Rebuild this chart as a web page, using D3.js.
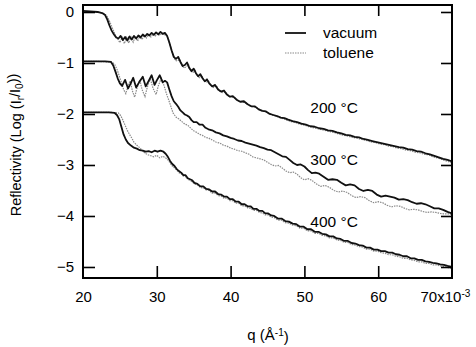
<!DOCTYPE html>
<html><head><meta charset="utf-8">
<script src="https://cdn.jsdelivr.net/npm/d3@7"></script>
<style>
body{margin:0;background:#fff;}
svg{display:block;font-family:"Liberation Sans",Arial,sans-serif;}
</style></head>
<body><svg id="c" width="476" height="347"></svg>
<script>
// q in units of 10^-3 Å^-1, reflectivity as log10
const xTicks = [20,30,40,50,60,70];
const yTicks = [0,-1,-2,-3,-4,-5];
const tempLabels = ["200 °C","300 °C","400 °C"];
const tempLabelPos = [[50.8,-1.98],[50.8,-3.0],[50.8,-4.22]];
const legendNames = ["vacuum","toluene"];

const vac200 = [[20,0.02],[21,0.01],[22,0.0],[22.6,-0.02],[23.0,-0.06],[23.3,-0.15],[23.6,-0.27],[23.9,-0.37],[24.2,-0.44],[24.5,-0.5],[24.8,-0.52],[25.1,-0.47],[25.4,-0.55],[25.7,-0.49],[26.0,-0.56],[26.3,-0.48],[26.6,-0.54],[26.9,-0.47],[27.2,-0.52],[27.5,-0.46],[27.8,-0.5],[28.1,-0.44],[28.4,-0.48],[28.7,-0.43],[29.0,-0.46],[29.3,-0.41],[29.6,-0.45],[29.9,-0.4],[30.2,-0.44],[30.5,-0.39],[30.8,-0.43],[31.1,-0.41],[31.4,-0.47],[31.7,-0.6],[32.0,-0.75],[32.3,-0.88],[32.6,-0.92],[32.9,-0.88],[33.2,-0.98],[33.5,-1.06],[33.8,-1.04],[34.1,-0.99],[34.4,-1.1],[34.7,-1.16],[35.0,-1.11],[35.3,-1.2],[35.6,-1.26],[35.9,-1.22],[36.2,-1.3],[36.5,-1.36],[36.8,-1.32],[37.1,-1.4],[37.5,-1.46],[37.9,-1.43],[38.3,-1.52],[38.7,-1.56],[39.1,-1.54],[39.5,-1.62],[39.9,-1.66],[40.3,-1.65],[40.8,-1.72],[41.3,-1.76],[41.8,-1.75],[42.3,-1.81],[42.8,-1.85],[43.3,-1.85],[43.8,-1.91],[44.3,-1.94],[44.8,-1.95],[45.3,-2.0],[45.8,-2.02],[46.3,-2.04],[46.8,-2.07],[47.3,-2.08],[47.8,-2.11],[48.4,-2.14],[49.0,-2.16],[49.6,-2.19],[50.2,-2.21],[50.8,-2.24],[51.4,-2.25],[52.0,-2.28],[52.6,-2.29],[53.2,-2.32],[53.8,-2.33],[54.4,-2.36],[55.0,-2.38],[55.6,-2.41],[56.2,-2.42],[56.8,-2.45],[57.4,-2.46],[58.0,-2.49],[58.6,-2.51],[59.2,-2.53],[59.8,-2.55],[60.4,-2.57],[61.0,-2.59],[61.6,-2.61],[62.2,-2.63],[62.8,-2.65],[63.4,-2.66],[64.0,-2.69],[64.6,-2.7],[65.2,-2.73],[65.8,-2.74],[66.4,-2.77],[67.0,-2.79],[67.6,-2.82],[68.2,-2.85],[68.8,-2.88],[69.4,-2.9],[70.0,-2.93]];

const tol200 = [[20,0.01],[21,0.0],[22,-0.01],[22.8,-0.03],[23.2,-0.07],[23.5,-0.15],[23.8,-0.25],[24.1,-0.36],[24.4,-0.45],[24.7,-0.53],[25.0,-0.6],[25.3,-0.5],[25.6,-0.62],[25.9,-0.5],[26.2,-0.61],[26.5,-0.49],[26.8,-0.59],[27.1,-0.48],[27.4,-0.57],[27.7,-0.47],[28.0,-0.54],[28.3,-0.45],[28.6,-0.51],[28.9,-0.44],[29.2,-0.49],[29.5,-0.43],[29.8,-0.47],[30.1,-0.42],[30.4,-0.46],[30.7,-0.42],[31.0,-0.45],[31.3,-0.44],[31.6,-0.55],[31.9,-0.7],[32.2,-0.84],[32.5,-0.95],[32.8,-0.96],[33.1,-0.93],[33.4,-1.04],[33.7,-1.1],[34.0,-1.07],[34.3,-1.03],[34.6,-1.15],[34.9,-1.19],[35.2,-1.15],[35.5,-1.25],[35.8,-1.29],[36.1,-1.25],[36.4,-1.34],[36.7,-1.38],[37.0,-1.35],[37.3,-1.43],[37.7,-1.48],[38.1,-1.45],[38.5,-1.55],[38.9,-1.58],[39.3,-1.57],[39.7,-1.64],[40.1,-1.67],[40.6,-1.68],[41.1,-1.74],[41.6,-1.77],[42.1,-1.78],[42.6,-1.84],[43.1,-1.86],[43.6,-1.88],[44.1,-1.93],[44.6,-1.95],[45.1,-1.98],[45.6,-2.02],[46.1,-2.04],[46.6,-2.07],[47.1,-2.09],[47.6,-2.12],[48.2,-2.15],[48.8,-2.17],[49.4,-2.2],[50.0,-2.22],[50.6,-2.25],[51.2,-2.27],[51.8,-2.29],[52.4,-2.31],[53.0,-2.33],[53.6,-2.35],[54.2,-2.37],[54.8,-2.4],[55.4,-2.42],[56.0,-2.44],[56.6,-2.46],[57.2,-2.48],[57.8,-2.5],[58.4,-2.52],[59.0,-2.55],[59.6,-2.56],[60.2,-2.59],[60.8,-2.6],[61.4,-2.63],[62.0,-2.64],[62.6,-2.67],[63.2,-2.68],[63.8,-2.71],[64.4,-2.72],[65.0,-2.75],[65.6,-2.76],[66.2,-2.79],[66.8,-2.8],[67.4,-2.84],[68.0,-2.86],[68.6,-2.89],[69.2,-2.92],[70.0,-2.96]];

const vac300 = [[20,-0.97],[21,-0.97],[22,-0.97],[23,-0.97],[23.8,-0.98],[24.1,-1.05],[24.4,-1.17],[24.7,-1.3],[25.0,-1.4],[25.3,-1.45],[25.7,-1.33],[26.1,-1.5],[26.4,-1.42],[26.8,-1.29],[27.2,-1.48],[27.6,-1.38],[28.1,-1.27],[28.5,-1.46],[28.9,-1.35],[29.3,-1.24],[29.7,-1.43],[30.0,-1.34],[30.4,-1.24],[30.8,-1.38],[31.1,-1.35],[31.4,-1.38],[31.7,-1.52],[32.0,-1.65],[32.3,-1.75],[32.6,-1.8],[32.9,-1.86],[33.2,-1.93],[33.5,-1.97],[33.8,-2.01],[34.1,-2.03],[34.4,-2.06],[34.7,-2.12],[35.0,-2.16],[35.4,-2.16],[35.8,-2.21],[36.2,-2.21],[36.6,-2.27],[37.0,-2.3],[37.5,-2.32],[38.0,-2.36],[38.5,-2.38],[39.0,-2.42],[39.5,-2.44],[40.0,-2.47],[40.5,-2.49],[41.0,-2.52],[41.5,-2.53],[42.0,-2.56],[42.5,-2.58],[43.0,-2.6],[43.5,-2.62],[44.0,-2.65],[44.5,-2.67],[45.0,-2.7],[45.5,-2.71],[46.0,-2.75],[46.5,-2.79],[47.0,-2.83],[47.5,-2.84],[48.0,-2.9],[48.5,-2.96],[49.0,-3.0],[49.5,-2.99],[50.0,-3.03],[50.5,-3.1],[51.0,-3.16],[51.5,-3.15],[52.0,-3.17],[52.6,-3.23],[53.2,-3.29],[53.8,-3.28],[54.4,-3.29],[55.0,-3.35],[55.6,-3.4],[56.2,-3.38],[56.8,-3.4],[57.4,-3.47],[58.0,-3.51],[58.6,-3.49],[59.2,-3.51],[59.8,-3.58],[60.4,-3.62],[61.0,-3.6],[61.6,-3.62],[62.2,-3.64],[62.8,-3.68],[63.4,-3.67],[64.0,-3.69],[64.6,-3.73],[65.2,-3.76],[65.8,-3.75],[66.4,-3.77],[67.0,-3.81],[67.6,-3.85],[68.2,-3.85],[68.8,-3.88],[69.4,-3.92],[70.0,-3.95]];

const tol300 = [[20,-0.97],[22,-0.97],[23.5,-0.98],[24.0,-0.99],[24.3,-1.03],[24.6,-1.12],[24.9,-1.25],[25.2,-1.38],[25.5,-1.52],[25.8,-1.6],[26.1,-1.45],[26.4,-1.35],[26.7,-1.55],[27.0,-1.67],[27.3,-1.5],[27.7,-1.33],[28.0,-1.52],[28.4,-1.66],[28.7,-1.48],[29.1,-1.3],[29.5,-1.5],[29.9,-1.62],[30.2,-1.45],[30.6,-1.3],[31.0,-1.45],[31.3,-1.6],[31.6,-1.72],[31.9,-1.85],[32.2,-1.98],[32.6,-2.06],[33.0,-2.1],[33.4,-2.15],[33.8,-2.2],[34.2,-2.22],[34.6,-2.28],[35.0,-2.33],[35.4,-2.36],[35.8,-2.4],[36.2,-2.42],[36.6,-2.46],[37.0,-2.47],[37.5,-2.51],[38.0,-2.55],[38.5,-2.57],[39.0,-2.61],[39.5,-2.63],[40.0,-2.67],[40.5,-2.69],[41.0,-2.72],[41.5,-2.73],[42.0,-2.76],[42.5,-2.79],[43.0,-2.84],[43.5,-2.86],[44.0,-2.88],[44.5,-2.9],[45.0,-2.95],[45.5,-2.99],[46.0,-3.02],[46.5,-3.01],[47.0,-3.06],[47.5,-3.12],[48.0,-3.15],[48.5,-3.14],[49.0,-3.18],[49.5,-3.25],[50.0,-3.29],[50.5,-3.27],[51.0,-3.3],[51.6,-3.37],[52.2,-3.42],[52.8,-3.4],[53.4,-3.44],[54.0,-3.5],[54.6,-3.53],[55.2,-3.51],[55.8,-3.54],[56.4,-3.6],[57.0,-3.64],[57.6,-3.62],[58.2,-3.64],[58.8,-3.7],[59.4,-3.74],[60.0,-3.72],[60.6,-3.74],[61.2,-3.79],[61.8,-3.82],[62.4,-3.8],[63.0,-3.81],[63.6,-3.85],[64.2,-3.88],[64.8,-3.87],[65.4,-3.88],[66.0,-3.91],[66.6,-3.93],[67.2,-3.92],[67.8,-3.93],[68.4,-3.95],[69.0,-3.96],[69.6,-3.96],[70.0,-3.97]];

const vac400 = [[20,-1.97],[22,-1.97],[23.5,-1.97],[24.3,-1.98],[24.6,-2.02],[24.9,-2.1],[25.2,-2.25],[25.5,-2.4],[25.8,-2.5],[26.1,-2.57],[26.5,-2.62],[26.9,-2.66],[27.3,-2.68],[27.7,-2.71],[28.1,-2.72],[28.5,-2.74],[28.9,-2.73],[29.3,-2.75],[29.7,-2.72],[30.1,-2.74],[30.5,-2.72],[30.9,-2.74],[31.2,-2.78],[31.5,-2.84],[31.8,-2.92],[32.1,-2.98],[32.4,-3.02],[32.7,-3.08],[33.0,-3.12],[33.3,-3.15],[33.6,-3.2],[33.9,-3.2],[34.2,-3.26],[34.5,-3.28],[34.8,-3.3],[35.1,-3.35],[35.5,-3.37],[35.9,-3.42],[36.3,-3.42],[36.7,-3.47],[37.1,-3.48],[37.5,-3.52],[37.9,-3.52],[38.3,-3.57],[38.7,-3.58],[39.1,-3.62],[39.5,-3.62],[39.9,-3.67],[40.3,-3.67],[40.7,-3.72],[41.1,-3.72],[41.5,-3.77],[41.9,-3.77],[42.3,-3.81],[42.7,-3.81],[43.1,-3.86],[43.5,-3.86],[43.9,-3.9],[44.3,-3.9],[44.7,-3.95],[45.1,-3.95],[45.5,-3.99],[45.9,-4.0],[46.4,-4.05],[46.9,-4.05],[47.4,-4.1],[47.9,-4.11],[48.4,-4.15],[48.9,-4.16],[49.4,-4.21],[49.9,-4.21],[50.4,-4.26],[50.9,-4.26],[51.4,-4.31],[51.9,-4.31],[52.4,-4.35],[52.9,-4.36],[53.4,-4.4],[53.9,-4.4],[54.4,-4.44],[54.9,-4.45],[55.4,-4.49],[55.9,-4.49],[56.4,-4.53],[56.9,-4.54],[57.4,-4.57],[57.9,-4.58],[58.4,-4.62],[58.9,-4.62],[59.4,-4.66],[59.9,-4.66],[60.4,-4.69],[60.9,-4.69],[61.4,-4.72],[61.9,-4.72],[62.4,-4.75],[62.9,-4.76],[63.4,-4.79],[63.9,-4.79],[64.4,-4.83],[64.9,-4.83],[65.4,-4.86],[65.9,-4.86],[66.4,-4.89],[66.9,-4.9],[67.4,-4.92],[67.9,-4.93],[68.4,-4.95],[68.9,-4.96],[69.4,-4.98],[70.0,-5.0]];

const tol400 = [[20,-1.97],[22,-1.97],[24,-1.97],[24.8,-1.98],[25.1,-2.03],[25.4,-2.12],[25.7,-2.22],[26.0,-2.32],[26.3,-2.4],[26.6,-2.47],[26.9,-2.55],[27.2,-2.6],[27.6,-2.65],[28.0,-2.71],[28.4,-2.77],[28.8,-2.8],[29.2,-2.82],[29.6,-2.84],[30.0,-2.81],[30.4,-2.86],[30.8,-2.83],[31.2,-2.86],[31.5,-2.9],[31.8,-2.96],[32.1,-3.02],[32.4,-3.06],[32.7,-3.1],[33.0,-3.15],[33.3,-3.17],[33.6,-3.22],[33.9,-3.23],[34.2,-3.28],[34.5,-3.3],[34.8,-3.33],[35.1,-3.37],[35.5,-3.39],[35.9,-3.44],[36.3,-3.45],[36.7,-3.49],[37.1,-3.5],[37.5,-3.55],[37.9,-3.55],[38.3,-3.6],[38.7,-3.61],[39.1,-3.65],[39.5,-3.65],[39.9,-3.7],[40.3,-3.7],[40.7,-3.75],[41.1,-3.75],[41.5,-3.8],[41.9,-3.8],[42.3,-3.84],[42.7,-3.85],[43.1,-3.89],[43.5,-3.89],[43.9,-3.93],[44.3,-3.94],[44.7,-3.98],[45.1,-3.98],[45.5,-4.02],[45.9,-4.03],[46.4,-4.08],[46.9,-4.08],[47.4,-4.13],[47.9,-4.14],[48.4,-4.18],[48.9,-4.19],[49.4,-4.24],[49.9,-4.24],[50.4,-4.29],[50.9,-4.29],[51.4,-4.34],[51.9,-4.34],[52.4,-4.38],[52.9,-4.39],[53.4,-4.43],[53.9,-4.43],[54.4,-4.47],[54.9,-4.48],[55.4,-4.52],[55.9,-4.52],[56.4,-4.56],[56.9,-4.57],[57.4,-4.6],[57.9,-4.61],[58.4,-4.65],[58.9,-4.65],[59.4,-4.69],[59.9,-4.69],[60.4,-4.72],[60.9,-4.73],[61.4,-4.76],[61.9,-4.76],[62.4,-4.79],[62.9,-4.8],[63.4,-4.83],[63.9,-4.83],[64.4,-4.86],[64.9,-4.87],[65.4,-4.9],[65.9,-4.9],[66.4,-4.93],[66.9,-4.93],[67.4,-4.96],[67.9,-4.96],[68.4,-4.98],[68.9,-4.99],[69.4,-5.01],[70.0,-5.03]];

const svg = d3.select("#c");
const L = 83, R = 452, T = 5, B = 278;
const x = d3.scaleLinear().domain([20,70]).range([L,R]);
const y = d3.scaleLinear().domain([-5.216,0.137]).range([B,T]);

svg.append("defs").append("clipPath").attr("id","pa")
  .append("rect").attr("x",L).attr("y",T).attr("width",R-L).attr("height",B-T);

const line = d3.line().x(d=>x(d[0])).y(d=>y(d[1]));
const g = svg.append("g").attr("clip-path","url(#pa)");
const tolStyle = s => s.attr("fill","none").attr("stroke","#8a8a8a").attr("stroke-width",1.2).attr("stroke-dasharray","1.5,1");
const vacStyle = s => s.attr("fill","none").attr("stroke","#111").attr("stroke-width",1.8).attr("stroke-linejoin","round");
[tol200,tol300,tol400].forEach(d=>g.append("path").datum(d).attr("d",line).call(tolStyle));
[vac200,vac300,vac400].forEach(d=>g.append("path").datum(d).attr("d",line).call(vacStyle));

// axes
const fs = "15px";
const ax = (gen, tx, ty) => {
  const a = svg.append("g").attr("transform",`translate(${tx},${ty})`).call(gen);
  a.select(".domain").remove();
  a.selectAll("line").attr("stroke","#000").attr("stroke-width",1.6);
  a.selectAll("text").attr("font-size",fs).attr("fill","#000").attr("font-family","'Liberation Sans',Arial,sans-serif");
  return a;
};
ax(d3.axisLeft(y).tickValues(yTicks).tickSize(-12).tickPadding(9).tickFormat(d3.format("d")), L, 0);
ax(d3.axisRight(y).tickValues(yTicks).tickSize(-11).tickFormat(""), R, 0);
ax(d3.axisTop(x).tickValues(xTicks.slice(1,-1)).tickSize(-11).tickFormat(""), 0, T);
const bx = ax(d3.axisBottom(x).tickValues(xTicks).tickSize(-12).tickPadding(13).tickFormat(d=>d), 0, B);
bx.selectAll(".tick").filter(d=>d===20||d===70).select("line").remove();
const last = bx.selectAll(".tick").filter(d=>d===70).select("text");
last.text(null).attr("text-anchor","start").attr("x",-32);
last.append("tspan").text("70x10");
last.append("tspan").attr("dy","-0.45em").attr("font-size","10px").text("-3");

// frame
svg.append("rect").attr("x",L).attr("y",T).attr("width",R-L).attr("height",B-T)
  .attr("fill","none").attr("stroke","#000").attr("stroke-width",2);

// axis titles
const xt = svg.append("text").attr("x",268).attr("y",340).attr("text-anchor","middle").attr("font-size","15px");
xt.append("tspan").text("q (Å");
xt.append("tspan").attr("dy","-0.45em").attr("font-size","10px").text("-1");
xt.append("tspan").attr("dy","0.45em").text(")");

const yt = svg.append("text").attr("transform","translate(21,145) rotate(-90)").attr("text-anchor","middle").attr("font-size","14.5px");
yt.append("tspan").text("Reflectivity (Log (I");
yt.append("tspan").attr("dy","0.3em").attr("font-size","10px").text("r");
yt.append("tspan").attr("dy","-0.3em").text("/I");
yt.append("tspan").attr("dy","0.3em").attr("font-size","10px").text("0");
yt.append("tspan").attr("dy","-0.3em").text("))");

// temperature labels
tempLabels.forEach((t,i)=>{
  svg.append("text").attr("x",x(tempLabelPos[i][0])).attr("y",y(tempLabelPos[i][1]))
    .attr("font-size","15.5px").text(t);
});

// legend
const lg = svg.append("g");
lg.append("line").attr("x1",285).attr("x2",306).attr("y1",33).attr("y2",33).attr("stroke","#111").attr("stroke-width",1.8);
lg.append("line").attr("x1",285).attr("x2",306).attr("y1",53).attr("y2",53).call(tolStyle);
lg.append("text").attr("x",323).attr("y",38).attr("font-size","15.5px").text(legendNames[0]);
lg.append("text").attr("x",323).attr("y",58).attr("font-size","15.5px").text(legendNames[1]);
</script></body></html>
